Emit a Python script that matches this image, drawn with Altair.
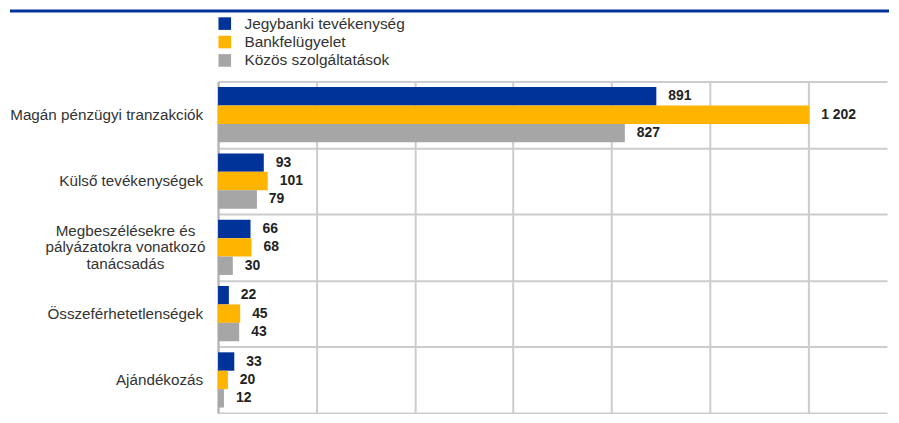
import altair as alt
import pandas as pd

categories = [
    "Magán pénzügyi tranzakciók",
    "Külső tevékenységek",
    "Megbeszélésekre és\npályázatokra vonatkozó\ntanácsadás",
    "Összeférhetetlenségek",
    "Ajándékozás",
]
series = ["Jegybanki tevékenység", "Bankfelügyelet", "Közös szolgáltatások"]
jegybanki = [891, 93, 66, 22, 33]
bankfelugyelet = [1202, 101, 68, 45, 20]
kozos = [827, 79, 30, 43, 12]
colors = ["#003399", "#FFB400", "#A6A6A6"]
x_ticks = [0, 200, 400, 600, 800, 1000, 1200]

rows = []
for s, vals in zip(series, [jegybanki, bankfelugyelet, kozos]):
    for c, v in zip(categories, vals):
        rows.append({"cat": c, "series": s, "value": v,
                     "label": f"{v:,}".replace(",", " ")})
df = pd.DataFrame(rows)
cat_df = pd.DataFrame({"cat": categories,
                       "multi": ["\n" in c for c in categories]})

FONT = "Liberation Sans"
W, H = 672, 333

y_enc = alt.Y("cat:N", sort=categories,
              scale=alt.Scale(paddingInner=0, paddingOuter=0),
              axis=alt.Axis(title=None, tickBand="extent", grid=True, ticks=False,
                            domain=True, labels=False))
yoff = alt.YOffset("series:N", sort=series,
                   scale=alt.Scale(paddingInner=0, paddingOuter=0.3))
x_enc = alt.X("value:Q", scale=alt.Scale(domain=[0, 1360], nice=False),
              axis=alt.Axis(title=None, values=x_ticks, labels=False, ticks=False,
                            domain=False, grid=True))

base = alt.Chart(df)
bars = base.mark_bar().encode(
    x=x_enc, y=y_enc, yOffset=yoff,
    color=alt.Color("series:N", sort=series,
                    scale=alt.Scale(domain=series, range=colors),
                    legend=alt.Legend(title=None, orient="none", legendX=-1, legendY=-66,
                                      direction="vertical", symbolType="square",
                                      symbolSize=160, symbolStrokeWidth=0,
                                      labelFont=FONT, labelFontSize=15.5,
                                      labelColor="#333333", labelOffset=12,
                                      labelLimit=400, rowPadding=1.5, padding=0)),
)
texts = base.mark_text(align="left", baseline="middle", dx=12, fontWeight="bold",
                       fontSize=14, font=FONT, color="#222222").encode(
    x="value:Q", y=alt.Y("cat:N", sort=categories), yOffset=alt.YOffset("series:N", sort=series),
    text="label:N",
)

cat_base = alt.Chart(cat_df)
ylab_single = cat_base.transform_filter("!datum.multi").mark_text(
    align="right", baseline="middle", fontSize=15.3, font=FONT, color="#333333"
).encode(x=alt.value(-15), y=alt.Y("cat:N", sort=categories), text="cat:N")
ylab_multi = cat_base.transform_filter("datum.multi").mark_text(
    align="center", baseline="middle", fontSize=15.3, font=FONT, color="#333333",
    lineBreak="\n", lineHeight=16.5, dy=-16.5
).encode(x=alt.value(-93), y=alt.Y("cat:N", sort=categories), text="cat:N")

topline = alt.Chart(pd.DataFrame({"a": [0]})).mark_rule(color="#003399", strokeWidth=3).encode(
    x=alt.value(-209), x2=alt.value(674), y=alt.value(-71)
)

chart = alt.layer(bars, texts, ylab_single, ylab_multi, topline).properties(
    width=W, height=H, padding=0
).configure_view(stroke=None).configure_axis(
    gridColor="#cccccc", gridWidth=2, domainColor="#b4b4b4", domainWidth=2
)

chart.save("out.html", embed_options={"renderer": "svg", "actions": False})
